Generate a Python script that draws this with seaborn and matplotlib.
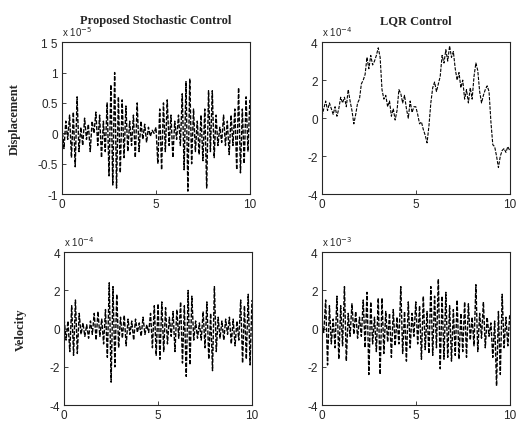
import numpy as np
import pandas as pd
import matplotlib
matplotlib.use("Agg")
import matplotlib.pyplot as plt
import seaborn as sns

# time axis (s)
t = np.linspace(0, 10, 101)

# Displacement, proposed stochastic control (x 1e-5)
disp_stoch = [0.1, -0.25, 0.2, -0.1, 0.3, -0.4, 0.35, -0.55, 0.6, -0.3,
              0.1, -0.2, 0.25, -0.1, 0.15, -0.3, 0.2, 0.0, 0.35, -0.2,
              0.3, -0.4, 0.2, -0.3, 0.5, -0.7, 0.8, -0.85, 1.0, -0.9,
              0.6, -0.65, 0.55, -0.4, 0.45, -0.3, 0.2, -0.2, 0.3, -0.4,
              0.5, -0.3, 0.2, -0.1, 0.15, -0.15, 0.1, -0.05, 0.05, 0.0,
              0.1, -0.5, 0.4, -0.6, 0.5, -0.3, 0.55, -0.2, 0.3, -0.4,
              0.2, -0.1, 0.3, -0.2, 0.65, -0.6, 0.85, -0.95, 0.9, -0.5,
              0.4, -0.3, 0.2, -0.35, 0.3, -0.45, 0.4, -0.9, 0.7, -0.3,
              0.7, -0.4, 0.3, -0.2, 0.1, -0.15, 0.3, -0.2, 0.2, -0.35,
              0.3, -0.2, 0.4, -0.6, 0.75, -0.65, 0.4, -0.5, 0.6, -0.3,
              0.55]

# Displacement, LQR control (x 1e-4)
disp_lqr = [0.1, 0.5, 0.9, 0.4, 0.8, 0.5, 0.2, 0.6, 0.1, 0.5,
            1.1, 0.8, 1.1, 0.6, 1.5, 0.9, 0.4, -0.3, 0.2, 0.8,
            1.0, 1.8, 2.0, 2.3, 3.2, 2.6, 3.3, 2.8, 3.0, 3.3,
            3.7, 3.2, 1.5, 1.0, 1.2, 0.6, 0.9, 0.1, 0.5, -0.1,
            0.4, 1.5, 1.3, 0.8, 1.2, 0.5, 0.0, 0.9, 0.3, 0.6,
            0.6, 0.2, -0.3, -0.2, -0.6, -0.9, -1.3, -0.4, 0.8, 1.6,
            1.9, 1.4, 1.8, 2.2, 3.3, 2.9, 3.6, 3.0, 3.8, 3.2,
            3.5, 2.6, 2.0, 2.4, 1.6, 2.0, 1.0, 1.5, 0.8, 1.6,
            1.0, 2.2, 2.9, 2.5, 1.4, 0.8, 1.2, 1.5, 1.7, 1.4,
            -0.2, -1.4, -1.5, -2.0, -2.6, -2.0, -1.7, -1.6, -1.8, -1.5,
            -1.7]

# Velocity, proposed stochastic control (x 1e-4)
vel_stoch = [0.5, -0.6, 0.4, -1.2, 1.2, -1.4, 1.5, -1.3, 0.8, -0.3,
             0.3, -0.4, 0.2, -0.5, 0.4, -0.3, 0.8, -0.6, 0.9, -0.4,
             0.5, -0.8, 1.0, -1.5, 2.4, -2.8, 2.2, -2.0, 1.8, -1.0,
             0.6, -0.5, 0.7, -0.9, 0.5, -0.3, 0.4, -0.6, 0.5, -0.2,
             0.3, -0.4, 0.6, -0.3, 0.2, -0.2, 0.8, -1.0, 1.2, -1.4,
             1.3, -1.6, 1.4, -1.2, 1.1, -0.8, 0.6, -0.4, 0.9, -1.2,
             1.0, -0.5, 1.4, -1.8, 1.2, -2.5, 2.0, -1.9, 1.7, -0.6,
             0.4, -0.5, 0.3, -0.6, 0.9, -1.0, 1.4, -1.6, 0.8, -2.2,
             2.2, -1.2, 0.6, -0.5, 0.4, -0.6, 0.5, -0.3, 0.6, -0.8,
             0.5, -0.9, 0.4, -0.6, 1.5, -1.8, 1.2, -1.6, 1.8, -1.9,
             1.5]

# Velocity, LQR control (x 1e-3)
vel_lqr = [0.3, -0.2, 1.5, -1.9, 1.2, -0.8, 0.5, -1.0, 1.7, -1.6,
           1.2, -0.9, 2.2, -1.7, 0.8, -0.4, 1.3, -0.3, 0.9, -0.5,
           0.6, -0.4, 1.5, -1.0, 1.9, -2.4, 1.4, -0.8, 0.6, -1.2,
           1.6, -2.4, 1.6, -1.3, 0.9, -0.7, 0.8, -1.5, 1.0, -0.9,
           0.6, -0.8, 2.2, -1.3, 0.9, -1.7, 1.4, -1.0, 0.8, -0.4,
           1.4, -0.8, 1.2, -1.6, 1.7, -1.1, 0.9, -1.3, 2.2, -1.4,
           1.7, -1.0, 2.6, -2.1, 1.7, -1.6, 1.9, -1.5, 1.2, -1.7,
           1.0, -1.4, 1.5, -1.6, 0.8, -1.2, 1.4, -1.5, 1.3, -0.6,
           0.6, -0.9, 2.3, -1.2, 0.8, -0.5, 1.4, -1.0, 0.6, -0.4,
           0.3, -1.5, 0.4, -3.0, 0.9, -2.4, 1.8, -1.0, 0.6, -0.9,
           0.7]

sns.set_style("ticks")
plt.rcParams['font.family'] = ['Liberation Sans', 'DejaVu Sans']
plt.rcParams['axes.unicode_minus'] = False

fig = plt.figure(figsize=(5.26, 4.27), dpi=100)
w, h = 0.357, 0.356
positions = [[0.118, 0.543, w, h], [0.612, 0.543, w, h],
             [0.122, 0.049, w, 0.358], [0.612, 0.049, w, 0.358]]
series = [disp_stoch, disp_lqr, vel_stoch, vel_lqr]
exps = ['-5', '-4', '-4', '-3']
ylims = [(-1, 1.5), (-4, 4), (-4, 4), (-4, 4)]
yticks = [[-1, -0.5, 0, 0.5, 1, 1.5], [-4, -2, 0, 2, 4], [-4, -2, 0, 2, 4], [-4, -2, 0, 2, 4]]
ytl = [['-1', '-0.5', '0', '0.5', '1', '1 5'], None, None, None]
widths = [1.0, 0.8, 1.0, 1.0]

for i, (pos, y) in enumerate(zip(positions, series)):
    ax = fig.add_axes(pos)
    df = pd.DataFrame({'t': t, 'y': y})
    sns.lineplot(data=df, x='t', y='y', ax=ax, color='black', lw=widths[i],
                 linestyle=(0, (3, 1.2)))
    ax.set_xlim(0, 10)
    ax.set_ylim(*ylims[i])
    ax.set_xticks([0, 5, 10])
    ax.set_yticks(yticks[i])
    if ytl[i]:
        ax.set_yticklabels(ytl[i])
    ax.tick_params(direction='in', length=3, labelsize=8.5, width=0.6, pad=3)
    for s in ax.spines.values():
        s.set_visible(True)
        s.set_linewidth(0.8)
    ax.set_xlabel('')
    ax.set_ylabel('')
    ax.text(0.0, 1.03, r'x 10$^{' + exps[i] + '}$', transform=ax.transAxes,
            fontsize=7, ha='left', va='bottom')
    if i == 0:
        ax.set_title('Proposed Stochastic Control', family='Liberation Serif',
                     fontweight='bold', fontsize=9, pad=14)
        ax.set_ylabel('Displacement', family='Liberation Serif',
                      fontweight='bold', fontsize=9, labelpad=12)
    if i == 1:
        ax.set_title('LQR Control', family='Liberation Serif',
                     fontweight='bold', fontsize=9, pad=14)
    if i == 2:
        ax.set_ylabel('Velocity', family='Liberation Serif',
                      fontweight='bold', fontsize=9, labelpad=16)

plt.savefig('out.png', dpi=100)
plt.close()
